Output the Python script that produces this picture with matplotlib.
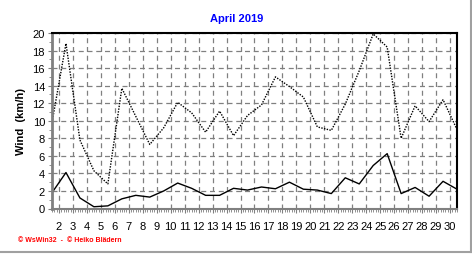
import numpy as np
import matplotlib
matplotlib.use('Agg')
import matplotlib.pyplot as plt
from matplotlib.lines import Line2D

# Daily wind values, April 2019
days = list(range(1, 31))
gust = [9.8, 18.8, 7.8, 4.3, 2.8, 13.7, 10.5, 7.3, 9.2, 12.1,
        10.9, 8.7, 11.1, 8.3, 10.6, 11.8, 15.0, 13.9, 12.7, 9.3,
        8.9, 11.9, 15.7, 19.9, 18.4, 8.0, 11.7, 9.9, 12.4, 9.0]
mean = [1.8, 4.1, 1.2, 0.2, 0.3, 1.1, 1.5, 1.3, 2.0, 2.9,
        2.3, 1.5, 1.5, 2.3, 2.1, 2.45, 2.25, 3.0, 2.2, 2.1,
        1.7, 3.5, 2.8, 4.9, 6.25, 1.7, 2.4, 1.4, 3.1, 2.2]
tick_days = list(range(2, 31))
y_ticks = list(range(0, 21, 2))

plt.rcParams['font.family'] = ['Liberation Sans', 'DejaVu Sans']

fig = plt.figure(figsize=(4.72, 2.55), dpi=100)
ax = fig.add_axes([52/472, (255-209.5)/255, 405/472, 175.5/255])

# values sit at noon of each day, grid lines at midnight
x = np.array(days) + 0.5
ax.plot(x, gust, color='black', lw=1.0, linestyle=(0, (1, 1)))
ax.plot(x, mean, color='black', lw=1.0)

ax.set_xlim(1.5, 30.5)
ax.set_ylim(0, 20)
ax.set_xticks(tick_days)
ax.set_xticklabels([str(d) for d in tick_days], fontsize=8)
ax.set_xticks(np.arange(1.5, 30.51, 1/6), minor=True)
ax.set_yticks(y_ticks)
ax.set_yticklabels([str(v) for v in y_ticks], fontsize=8)
ax.set_yticks(np.arange(0, 20.1, 1), minor=True)

ax.grid(True, which='major', color='#808080', linestyle=(0, (4, 3)), lw=0.9)
ax.tick_params(axis='x', which='major', length=3, color='#808080', pad=6)
ax.tick_params(axis='x', which='minor', length=2, color='#808080')
ax.tick_params(axis='y', which='major', length=3, color='#808080', pad=2)
ax.tick_params(axis='y', which='minor', length=2, color='#808080')

ax.spines['left'].set_color('#808080')
ax.spines['left'].set_linewidth(2)
ax.spines['bottom'].set_color('#808080')
ax.spines['bottom'].set_linewidth(1.5)
ax.spines['top'].set_linewidth(1.5)
ax.spines['right'].set_linewidth(1.5)

ax.set_ylabel('Wind  (km/h)', fontsize=8, fontweight='bold', labelpad=5)

fig.text(236.5/472, 1 - 19/255, 'April 2019', color='#0000ff', fontsize=8,
         fontweight='bold', ha='center', va='center')
fig.text(18/472, 1 - 241/255, '\u00a9 WsWin32  -  \u00a9 Heiko Bl\u00e4dern',
         color='red', fontsize=5, fontweight='bold', ha='left', va='center')

# grey frame on right and bottom edges
fig.add_artist(Line2D([0, 471/472], [2/255, 2/255], color='#a0a0a0', lw=1.5))
fig.add_artist(Line2D([471/472, 471/472], [2/255, 1], color='#a0a0a0', lw=1.5))

fig.savefig('out.png', dpi=100)
